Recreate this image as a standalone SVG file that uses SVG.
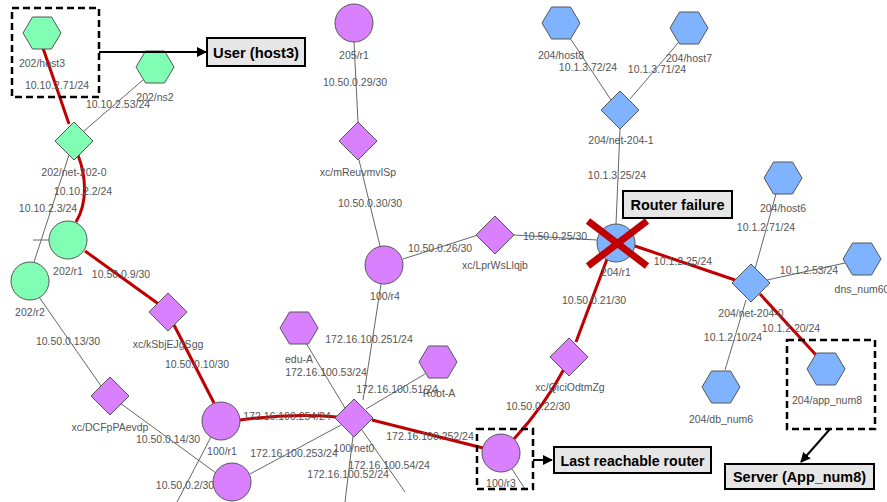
<svg xmlns="http://www.w3.org/2000/svg" width="887" height="502" viewBox="0 0 887 502">
  <style>
    .lbl { font-family: "Liberation Sans", Arial, sans-serif; font-size: 10.5px; fill: #555; text-anchor: middle; }
    .edge { stroke: #666; stroke-width: 1; fill: none; }
    .path { stroke: #c00000; stroke-width: 3; fill: none; }
    .green { fill: #80ffb4; stroke: #555; stroke-width: 1; }
    .purple { fill: #d980ff; stroke: #555; stroke-width: 1; }
    .blue { fill: #80b3ff; stroke: #555; stroke-width: 1; }
    .dash { fill: none; stroke: #000; stroke-width: 2.5; stroke-dasharray: 7 4; }
    .callout rect { fill: #e6e6e6; stroke: #000; stroke-width: 2; }
    .callout text { font-family: "Liberation Sans", Arial, sans-serif; font-weight: bold; font-size: 15px; fill: #000; text-anchor: middle; }
    .pointer { stroke: #000; stroke-width: 2; fill: none; marker-end: url(#head); }
    .cross { stroke: #c00000; stroke-width: 7; }
  </style>
  <defs>
    <polygon id="hex" points="-19,0 -9.5,-16 9.5,-16 19,0 9.5,16 -9.5,16"/>
    <polygon id="dia" points="0,-19 19,0 0,19 -19,0"/>
    <marker id="head" viewBox="0 0 10 10" refX="9" refY="5" markerWidth="5" markerHeight="5" orient="auto">
      <path d="M0,0 L10,5 L0,10 z" fill="#000"/>
    </marker>
  </defs>
  <rect width="887" height="502" fill="#fff"/>

  <!-- links -->
  <g id="connectors">
    <line class="edge" x1="143" y1="80" x2="84" y2="131"/>
    <line class="edge" x1="69" y1="155" x2="34" y2="262"/>
    <line class="edge" x1="33" y1="240" x2="49" y2="240"/>
    <line class="edge" x1="39" y1="297" x2="101" y2="386"/>
    <line class="edge" x1="120" y1="403" x2="216" y2="473"/>
    <line class="edge" x1="211" y1="437" x2="177" y2="502"/>
    <line class="edge" x1="250" y1="474" x2="341" y2="425"/>
    <line class="edge" x1="354" y1="42" x2="358" y2="122"/>
    <line class="edge" x1="359" y1="160" x2="380" y2="246"/>
    <line class="edge" x1="403" y1="259" x2="478" y2="235"/>
    <line class="edge" x1="514" y1="235" x2="597" y2="240"/>
    <line class="edge" x1="381" y1="284" x2="363" y2="400"/>
    <line class="edge" x1="306" y1="343" x2="345" y2="408"/>
    <line class="edge" x1="425" y1="374" x2="366" y2="409"/>
    <line class="edge" x1="353" y1="436" x2="345" y2="502"/>
    <line class="edge" x1="362" y1="430" x2="405" y2="492"/>
    <line class="edge" x1="512" y1="469" x2="525" y2="489"/>
    <line class="edge" x1="570" y1="38" x2="611" y2="100"/>
    <line class="edge" x1="678" y1="43" x2="630" y2="99"/>
    <line class="edge" x1="620" y1="129" x2="616" y2="224"/>
    <line class="edge" x1="776" y1="194" x2="755" y2="269"/>
    <line class="edge" x1="845" y1="263" x2="767" y2="280"/>
    <line class="edge" x1="746" y1="300" x2="725" y2="370"/>

    <!-- reachable path -->
    <line class="path" x1="43" y1="48" x2="69" y2="124"/>
    <path class="path" d="M78,155 C86,176 88,202 76,222"/>
    <line class="path" x1="85" y1="251" x2="160" y2="305"/>
    <line class="path" x1="174" y1="325" x2="214" y2="403"/>
    <path class="path" d="M240,420 Q290,413 337,417"/>
    <line class="path" x1="372" y1="420" x2="483" y2="448"/>
    <path class="path" d="M514,439 Q545,405 564,369"/>
    <line class="path" x1="607" y1="259" x2="576" y2="342"/>
    <line class="path" x1="635" y1="246" x2="735" y2="280"/>
    <line class="path" x1="760" y1="294" x2="816" y2="355"/>

    <!-- interface addresses -->
    <text class="lbl" x="57" y="89">10.10.2.71/24</text>
    <text class="lbl" x="118" y="108">10.10.2.53/24</text>
    <text class="lbl" x="83" y="195">10.10.2.2/24</text>
    <text class="lbl" x="48" y="212">10.10.2.3/24</text>
    <text class="lbl" x="121" y="278">10.50.0.9/30</text>
    <text class="lbl" x="68" y="345">10.50.0.13/30</text>
    <text class="lbl" x="197" y="368">10.50.0.10/30</text>
    <text class="lbl" x="168" y="443">10.50.0.14/30</text>
    <text class="lbl" x="185" y="489">10.50.0.2/30</text>
    <text class="lbl" x="355" y="86">10.50.0.29/30</text>
    <text class="lbl" x="370" y="207">10.50.0.30/30</text>
    <text class="lbl" x="440" y="252">10.50.0.26/30</text>
    <text class="lbl" x="555" y="240">10.50.0.25/30</text>
    <text class="lbl" x="588" y="71">10.1.3.72/24</text>
    <text class="lbl" x="657" y="73">10.1.3.71/24</text>
    <text class="lbl" x="617" y="179">10.1.3.25/24</text>
    <text class="lbl" x="594" y="304">10.50.0.21/30</text>
    <text class="lbl" x="683" y="265">10.1.2.25/24</text>
    <text class="lbl" x="766" y="231">10.1.2.71/24</text>
    <text class="lbl" x="809" y="274">10.1.2.53/24</text>
    <text class="lbl" x="791" y="332">10.1.2.20/24</text>
    <text class="lbl" x="733" y="341">10.1.2.10/24</text>
    <text class="lbl" x="369" y="343">172.16.100.251/24</text>
    <text class="lbl" x="326" y="376">172.16.100.53/24</text>
    <text class="lbl" x="397" y="393">172.16.100.51/24</text>
    <text class="lbl" x="287" y="420">172.16.100.254/24</text>
    <text class="lbl" x="430" y="440">172.16.100.252/24</text>
    <text class="lbl" x="294" y="457">172.16.100.253/24</text>
    <text class="lbl" x="389" y="469">172.16.100.54/24</text>
    <text class="lbl" x="348" y="478">172.16.100.52/24</text>
    <text class="lbl" x="538" y="410">10.50.0.22/30</text>
  </g>

  <!-- AS 202 -->
  <g id="host3"><use href="#hex" x="42" y="33" class="green"/><text class="lbl" x="42" y="67">202/host3</text></g>
  <g id="ns2"><use href="#hex" x="155" y="67" class="green"/><text class="lbl" x="155" y="101">202/ns2</text></g>
  <g id="net-202-0"><use href="#dia" x="74" y="141" class="green"/><text class="lbl" x="74" y="176">202/net-202-0</text></g>
  <g id="r1-202"><circle cx="68" cy="240" r="19" class="green"/><text class="lbl" x="68" y="275">202/r1</text></g>
  <g id="r2-202"><circle cx="30" cy="281" r="19" class="green"/><text class="lbl" x="30" y="316">202/r2</text></g>

  <!-- AS 100 / 205 and cross-connects -->
  <g id="kSbjEJgSgg"><use href="#dia" x="168" y="312" class="purple"/><text class="lbl" x="168" y="348">xc/kSbjEJgSgg</text></g>
  <g id="DCFpPAevdp"><use href="#dia" x="110" y="396" class="purple"/><text class="lbl" x="110" y="431">xc/DCFpPAevdp</text></g>
  <g id="r1-100"><circle cx="221" cy="421" r="19" class="purple"/><text class="lbl" x="222" y="455">100/r1</text></g>
  <g id="r2-100"><circle cx="232" cy="482" r="19" class="purple"/></g>
  <g id="r1-205"><circle cx="354" cy="23" r="19" class="purple"/><text class="lbl" x="354" y="59">205/r1</text></g>
  <g id="mReuvmvISp"><use href="#dia" x="358" y="141" class="purple"/><text class="lbl" x="358" y="176">xc/mReuvmvISp</text></g>
  <g id="r4-100"><circle cx="384" cy="265" r="19" class="purple"/><text class="lbl" x="385" y="300">100/r4</text></g>
  <g id="LprWsLlqjb"><use href="#dia" x="495" y="235" class="purple"/><text class="lbl" x="495" y="269">xc/LprWsLlqjb</text></g>
  <g id="edu-A"><use href="#hex" x="299" y="328" class="purple"/><text class="lbl" x="299" y="363">edu-A</text></g>
  <g id="Robt-A"><use href="#hex" x="438" y="362" class="purple"/><text class="lbl" x="439" y="397">Robt-A</text></g>
  <g id="net0-100"><use href="#dia" x="354" y="418" class="purple"/><text class="lbl" x="354" y="452">100/net0</text></g>
  <g id="r3-100"><circle cx="501" cy="453" r="19" class="purple"/><text class="lbl" x="501" y="487">100/r3</text></g>
  <g id="QiciOdtmZg"><use href="#dia" x="569" y="357" class="purple"/><text class="lbl" x="570" y="391">xc/QiciOdtmZg</text></g>

  <!-- AS 204 -->
  <g id="host8"><use href="#hex" x="561" y="23" class="blue"/><text class="lbl" x="561" y="59">204/host8</text></g>
  <g id="host7"><use href="#hex" x="689" y="28" class="blue"/><text class="lbl" x="689" y="62">204/host7</text></g>
  <g id="net-204-1"><use href="#dia" x="620" y="110" class="blue"/><text class="lbl" x="621" y="144">204/net-204-1</text></g>
  <g id="r1-204"><circle cx="616" cy="243" r="19" class="blue"/><text class="lbl" x="616" y="276">204/r1</text></g>
  <g id="host6"><use href="#hex" x="783" y="178" class="blue"/><text class="lbl" x="783" y="212">204/host6</text></g>
  <g id="dns_num60"><use href="#hex" x="862" y="259" class="blue"/><text class="lbl" x="862" y="293">dns_num60</text></g>
  <g id="net-204-0"><use href="#dia" x="751" y="283" class="blue"/><text class="lbl" x="751" y="317">204/net-204-0</text></g>
  <g id="db_num6"><use href="#hex" x="721" y="387" class="blue"/><text class="lbl" x="721" y="423">204/db_num6</text></g>
  <g id="app_num8"><use href="#hex" x="826" y="369" class="blue"/><text class="lbl" x="827" y="404">204/app_num8</text></g>

  <!-- failure mark -->
  <g id="failure-mark">
    <line class="cross" x1="588" y1="221" x2="647" y2="266"/>
    <line class="cross" x1="647" y1="221" x2="588" y2="266"/>
  </g>

  <!-- annotations -->
  <g id="annotations">
    <rect class="dash" x="12" y="8" width="87" height="89"/>
    <rect class="dash" x="477" y="429" width="56" height="60"/>
    <rect class="dash" x="787" y="340" width="88" height="89"/>
    <line class="pointer" x1="99" y1="52" x2="206" y2="52"/>
    <line class="pointer" x1="533" y1="460" x2="552" y2="460"/>
    <line class="pointer" x1="830" y1="429" x2="801" y2="462"/>
    <g class="callout" id="user-callout"><rect x="207" y="38" width="98" height="28"/><text x="256" y="57.5" textLength="86" lengthAdjust="spacingAndGlyphs">User (host3)</text></g>
    <g class="callout" id="failure-callout"><rect x="623" y="191" width="109" height="27"/><text x="677.5" y="210" textLength="94" lengthAdjust="spacingAndGlyphs">Router failure</text></g>
    <g class="callout" id="router-callout"><rect x="554" y="447" width="157" height="26"/><text x="632.5" y="465.5" textLength="144" lengthAdjust="spacingAndGlyphs">Last reachable router</text></g>
    <g class="callout" id="server-callout"><rect x="725" y="464" width="149" height="25"/><text x="799.5" y="482" textLength="133" lengthAdjust="spacingAndGlyphs">Server (App_num8)</text></g>
  </g>
</svg>
